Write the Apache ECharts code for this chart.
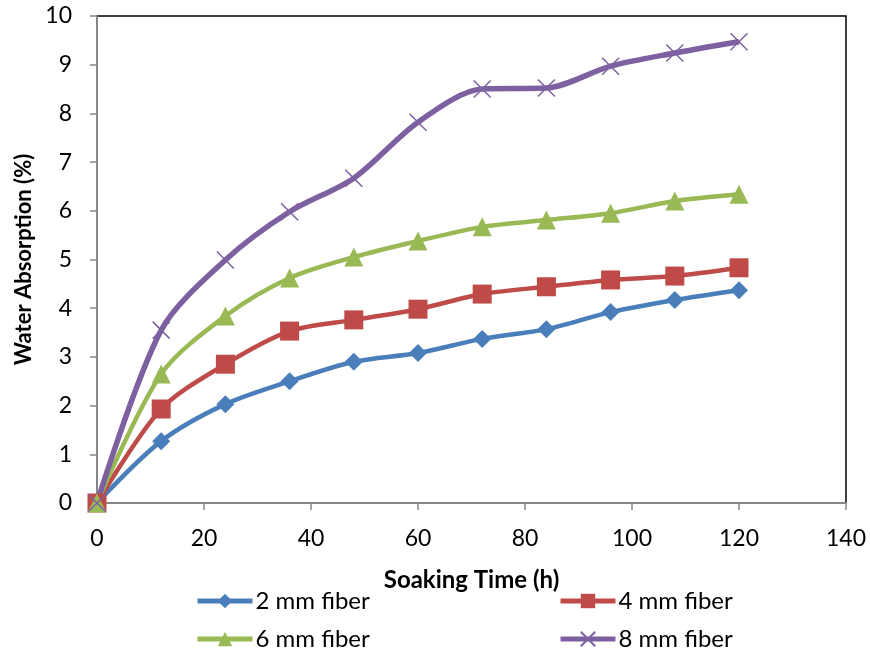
<!DOCTYPE html>
<html>
<head>
<meta charset="utf-8">
<script src="https://cdn.jsdelivr.net/npm/echarts@6/dist/echarts.min.js"></script>
<style>
  html, body { margin: 0; padding: 0; background: #fff; }
  #main { width: 870px; height: 651px; }
</style>
</head>
<body>
<div id="main"></div>
<script>
var hours = [0, 12, 24, 36, 48, 60, 72, 84, 96, 108, 120]
var fiber2 = [0, 1.27, 2.03, 2.50, 2.90, 3.08, 3.37, 3.57, 3.92, 4.17, 4.37]
var fiber4 = [0, 1.93, 2.85, 3.53, 3.76, 3.98, 4.29, 4.44, 4.58, 4.66, 4.83]
var fiber6 = [0, 2.65, 3.84, 4.62, 5.05, 5.38, 5.67, 5.81, 5.95, 6.20, 6.34]
var fiber8 = [0, 3.55, 4.99, 5.98, 6.67, 7.82, 8.50, 8.52, 8.97, 9.24, 9.47]
var names = ['2 mm fiber', '4 mm fiber', '6 mm fiber', '8 mm fiber']

var font = 'Lato'
var crossPath = 'path://M0,0L10,10M10,0L0,10'

function pairs(vals) {
  var out = []
  for (var i = 0; i < hours.length; i++) out.push([hours[i], vals[i]])
  return out
}

function makeSeries(name, vals, color, symbol, size, width) {
  return {
    name: name,
    type: 'line',
    data: pairs(vals),
    smooth: 0.3,
    symbol: symbol,
    symbolSize: size,
    showAllSymbol: true,
    lineStyle: { color: color, width: width },
    itemStyle: { color: color, borderColor: color, borderWidth: symbol === crossPath ? 1.5 : 0 }
  }
}

// one legend per entry so each sits where the reference puts it
function legendItem(name, left, top) {
  return {
    data: [name],
    left: left, top: top,
    itemWidth: 55, itemHeight: 18,
    lineStyle: { width: 5 },
    textStyle: { fontSize: 24, color: '#000', fontFamily: font, padding: [0, 0, 0, -2] }
  }
}

var myChart = echarts.init(document.getElementById('main'))
var option = {
  animation: false,
  grid: {
    left: 97, right: 24, top: 16, bottom: 148,
    show: true, borderColor: '#000', borderWidth: 1.5, backgroundColor: 'transparent'
  },
  legend: [
    legendItem(names[0], 190, 584),
    legendItem(names[1], 553, 584),
    legendItem(names[2], 190, 622),
    legendItem(names[3], 553, 622)
  ],
  xAxis: {
    type: 'value',
    min: 0, max: 140, interval: 20,
    name: 'Soaking Time (h)',
    nameLocation: 'middle',
    nameGap: 65,
    nameTextStyle: { fontSize: 24, fontWeight: 'bold', color: '#000', fontFamily: font },
    axisLine: { lineStyle: { color: '#868686', width: 2 } },
    axisTick: { show: true, length: 7, lineStyle: { color: '#868686', width: 1.5 } },
    axisLabel: { fontSize: 23, color: '#000', margin: 24, fontFamily: font },
    splitLine: { show: false }
  },
  yAxis: {
    type: 'value',
    min: 0, max: 10, interval: 1,
    name: 'Water Absorption (%)',
    nameLocation: 'middle',
    nameGap: 62,
    nameRotate: 90,
    nameTextStyle: { fontSize: 22, fontWeight: 'bold', color: '#000', fontFamily: font },
    axisLine: { show: true, lineStyle: { color: '#868686', width: 2 } },
    axisTick: { show: true, length: 7, lineStyle: { color: '#868686', width: 1.5 } },
    axisLabel: { fontSize: 23, color: '#000', margin: 25, fontFamily: font },
    splitLine: { show: false }
  },
  series: [
    makeSeries(names[0], fiber2, '#4A7EBB', 'diamond', 18, 4.5),
    makeSeries(names[1], fiber4, '#BE4B48', 'rect', 19, 4.5),
    makeSeries(names[2], fiber6, '#98B954', 'triangle', 19, 4.5),
    makeSeries(names[3], fiber8, '#7D60A0', crossPath, 17, 5.5)
  ]
}
myChart.setOption(option)
</script>
</body>
</html>
